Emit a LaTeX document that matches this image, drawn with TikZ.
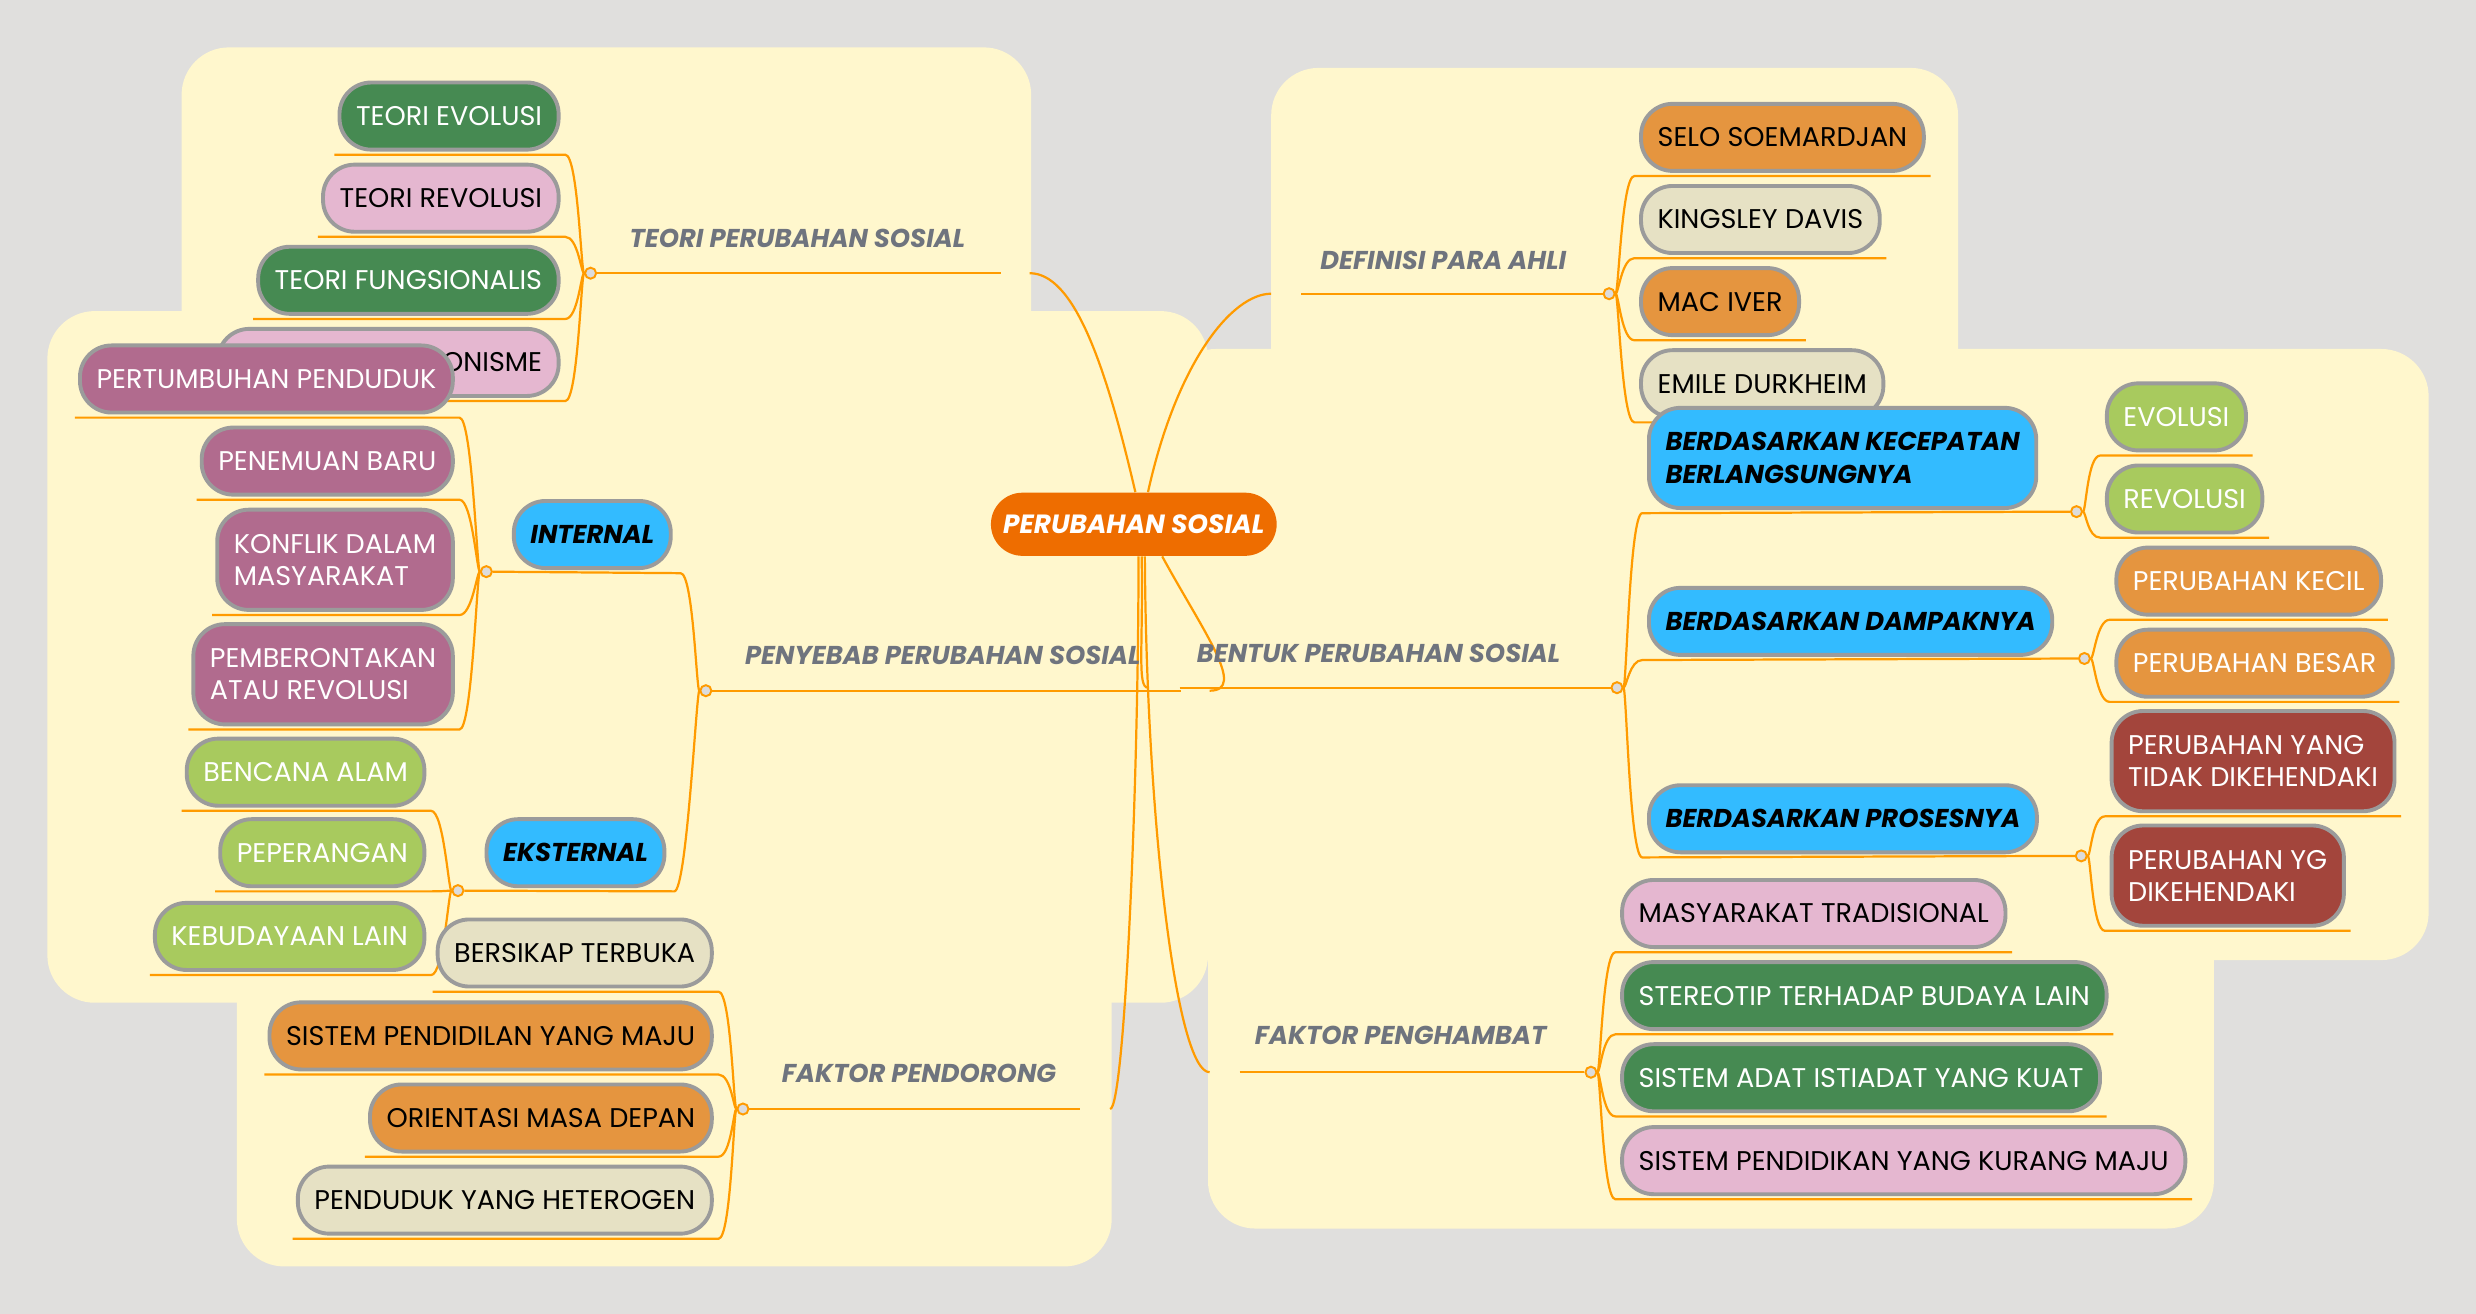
\documentclass[tikz,border=0pt]{standalone}
\usepackage{fontspec}
\setmainfont{Poppins}
\usetikzlibrary{positioning,calc}
\definecolor{bgray}{HTML}{E0DFDD}
\definecolor{panel}{HTML}{FFF7CD}
\definecolor{wirec}{HTML}{FF9B00}
\definecolor{edgegray}{HTML}{9B9B9B}
\definecolor{lgray}{HTML}{6F747E}
\definecolor{cent}{HTML}{EE6D00}
\definecolor{jfill}{HTML}{DCDCDC}
\definecolor{cgreen}{HTML}{468A52}
\definecolor{cpink}{HTML}{E5B7D0}
\definecolor{cmauve}{HTML}{B16B8E}
\definecolor{clime}{HTML}{A8CA5E}
\definecolor{corange}{HTML}{E5953F}
\definecolor{cbeige}{HTML}{E6E1C4}
\definecolor{cred}{HTML}{A3453C}
\definecolor{cblue}{HTML}{33BBFF}
\newcommand{\bxfont}{\fontsize{9.75}{11.6}\selectfont}
\newcommand{\blfont}{\fontsize{9.3}{11.6}\selectfont\bfseries\itshape}
\newcommand{\lbfont}{\fontsize{9.3}{11}\selectfont\bfseries\itshape}
\newcommand{\ctfont}{\fontsize{9.5}{12}\selectfont\bfseries\itshape}
\pgfdeclarelayer{panels}
\pgfdeclarelayer{wires}
\pgfsetlayers{panels,wires,main}

\begin{document}
\begin{tikzpicture}[x=0.02cm, y=-0.02cm,
    box/.style={draw=edgegray, line width=1.4pt, rounded corners=0.4cm, minimum height=0.85cm,
      inner xsep=0.21cm, inner ysep=0.1cm, font=\bxfont, align=left},
    tall/.style={minimum height=1.27cm},
    lft/.style={box, anchor=east},
    rgt/.style={box, anchor=west},
    grn/.style={fill=cgreen, text=white},
    pnk/.style={fill=cpink, text=black},
    mve/.style={fill=cmauve, text=white},
    lme/.style={fill=clime, text=white},
    org/.style={fill=corange, text=black},
    orw/.style={fill=corange, text=white},
    bge/.style={fill=cbeige, text=black},
    rd/.style={fill=cred, text=white},
    blu/.style={fill=cblue, text=black, font=\blfont},
    lbl/.style={font=\lbfont, text=lgray, inner sep=0},
    wire/.style={draw=wirec, line width=0.8pt},
    jn/.style={circle, draw=wirec, fill=jfill, line width=0.7pt, inner sep=0, minimum size=0.14cm},
    pnl/.style={fill=panel, rounded corners=0.6cm}]
    \useasboundingbox (0,0) rectangle (1568,832);

    % centre
    \node[fill=cent, rounded corners=0.4cm, minimum width=3.62cm, minimum height=0.8cm,
      text=white, font=\ctfont] (ps) at (718,332) {PERUBAHAN SOSIAL};

    % branch labels
    \node[lbl] (lTe) at (505,151) {TEORI PERUBAHAN SOSIAL};
    \node[lbl] (lPy) at (597,415) {PENYEBAB PERUBAHAN SOSIAL};
    \node[lbl] (lPd) at (582,680) {FAKTOR PENDORONG};
    \node[lbl] (lDf) at (914,165) {DEFINISI PARA AHLI};
    \node[lbl] (lBt) at (873,414) {BENTUK PERUBAHAN SOSIAL};
    \node[lbl] (lPh) at (887,656) {FAKTOR PENGHAMBAT};

    % teori
    \node[lft, grn] (te1) at (355,73.5) {TEORI EVOLUSI};
    \node[lft, pnk] (te2) at (355,125.5) {TEORI REVOLUSI};
    \node[lft, grn] (te3) at (355,177.5) {TEORI FUNGSIONALIS};
    \node[lft, pnk] (te4) at (355,229.5) {TEORI INTERAKSIONISME};

    % penyebab
    \node[lft, blu] (inl) at (426,338.5) {INTERNAL};
    \node[lft, blu] (ekl) at (422,540) {EKSTERNAL};
    \node[lft, mve] (in1) at (288,240) {PERTUMBUHAN PENDUDUK};
    \node[lft, mve] (in2) at (288,292) {PENEMUAN BARU};
    \node[lft, mve, tall] (in3) at (288,354.5) {KONFLIK DALAM\\MASYARAKAT};
    \node[lft, mve, tall] (in4) at (288,427) {PEMBERONTAKAN\\ATAU REVOLUSI};
    \node[lft, lme] (ek1) at (270,489) {BENCANA ALAM};
    \node[lft, lme] (ek2) at (270,540) {PEPERANGAN};
    \node[lft, lme] (ek3) at (270,593) {KEBUDAYAAN LAIN};

    % pendorong
    \node[lft, bge] (pd1) at (452,603.5) {BERSIKAP TERBUKA};
    \node[lft, org] (pd2) at (452,656) {SISTEM PENDIDILAN YANG MAJU};
    \node[lft, org] (pd3) at (452,708) {ORIENTASI MASA DEPAN};
    \node[lft, bge] (pd4) at (452,760) {PENDUDUK YANG HETEROGEN};

    % definisi
    \node[rgt, org] (df1) at (1038,87) {SELO SOEMARDJAN};
    \node[rgt, bge] (df2) at (1038,139) {KINGSLEY DAVIS};
    \node[rgt, org] (df3) at (1038,191) {MAC IVER};
    \node[rgt, bge] (df4) at (1038,243) {EMILE DURKHEIM};

    % bentuk
    \node[rgt, blu, tall] (bt1) at (1043,290) {BERDASARKAN KECEPATAN\\BERLANGSUNGNYA};
    \node[rgt, blu] (bt2) at (1043,393.5) {BERDASARKAN DAMPAKNYA};
    \node[rgt, blu] (bt3) at (1043,518.5) {BERDASARKAN PROSESNYA};
    \node[rgt, lme] (kc1) at (1333,264) {EVOLUSI};
    \node[rgt, lme] (kc2) at (1333,316) {REVOLUSI};
    \node[rgt, orw] (dp1) at (1339,368) {PERUBAHAN KECIL};
    \node[rgt, orw] (dp2) at (1339,420) {PERUBAHAN BESAR};
    \node[rgt, rd, tall] (pr1) at (1336,482) {PERUBAHAN YANG\\TIDAK DIKEHENDAKI};
    \node[rgt, rd, tall] (pr2) at (1336,554.5) {PERUBAHAN YG\\DIKEHENDAKI};

    % penghambat
    \node[rgt, pnk] (ph1) at (1026,578.5) {MASYARAKAT TRADISIONAL};
    \node[rgt, grn] (ph2) at (1026,630.5) {STEREOTIP TERHADAP BUDAYA LAIN};
    \node[rgt, grn] (ph3) at (1026,682.5) {SISTEM ADAT ISTIADAT YANG KUAT};
    \node[rgt, pnk] (ph4) at (1026,735) {SISTEM PENDIDIKAN YANG KURANG MAJU};

    % junctions
    \node[jn] (jTe) at (374,173) {};
    \node[jn] (jPy) at (447,437.4) {};
    \node[jn] (jIn) at (308,362) {};
    \node[jn] (jEk) at (290,564) {};
    \node[jn] (jPd) at (470.5,702.3) {};
    \node[jn] (jDf) at (1019,186) {};
    \node[jn] (jBt) at (1024,435.5) {};
    \node[jn] (jKc) at (1315,324) {};
    \node[jn] (jDp) at (1320,417) {};
    \node[jn] (jPr) at (1318,542) {};
    \node[jn] (jPh) at (1007.5,679) {};

    % ends of the main connectors
    \coordinate (cTe) at (652,173);   \coordinate (uTe) at (634,173);
    \coordinate (cPy) at (766,437.4); \coordinate (uPy) at (748,437.4);
    \coordinate (cPd) at (703,702.3); \coordinate (uPd) at (684,702.3);
    \coordinate (cDf) at (805,186);   \coordinate (uDf) at (824,186);
    \coordinate (cBt) at (727,435.5); \coordinate (uBt) at (747,435.5);
    \coordinate (cPh) at (766,679);   \coordinate (uPh) at (785,679);

    \begin{pgfonlayer}{panels}
      \fill[bgray] (0,0) rectangle (1568,832);
      \fill[pnl] (115,30) rectangle (653,320);
      \fill[pnl] (805,43) rectangle (1240,320);
      \fill[pnl] (30,197) rectangle (765,635);
      \fill[pnl] (740,221) rectangle (1538,608);
      \fill[pnl] (150,560) rectangle (704,802);
      \fill[pnl] (765,560) rectangle (1402,778);
    \end{pgfonlayer}

    \begin{pgfonlayer}{wires}
      \draw[wire] ([xshift=0.02cm]ps.north) .. controls (700,230) and (680,173) .. (cTe);
      \draw[wire] ([xshift=0.18cm]ps.north) .. controls (745,230) and (780,186) .. (cDf);
      \draw[wire] ([xshift=0.36cm]ps.south) .. controls (762,400) and (790,437.4) .. (cPy);
      \draw[wire] ([xshift=0.10cm]ps.south) .. controls (724,410) and (720,435.5) .. (cBt);
      \draw[wire] ([xshift=0.06cm]ps.south) .. controls (721,500) and (712,702.3) .. (cPd);
      \draw[wire] ([xshift=0.14cm]ps.south) .. controls (726,520) and (745,679) .. (cPh);
      \draw[wire] (jTe) -- (uTe);
      \draw[wire] (jPy) -- (uPy);
      \draw[wire] (jPd) -- (uPd);
      \draw[wire] (uDf) -- (jDf);
      \draw[wire] (uBt) -- (jBt);
      \draw[wire] (uPh) -- (jPh);
      % left children
      \foreach \n/\j in {te1/jTe,te2/jTe,te3/jTe,te4/jTe,in1/jIn,in2/jIn,in3/jIn,in4/jIn,
          ek1/jEk,ek2/jEk,ek3/jEk,pd1/jPd,pd2/jPd,pd3/jPd,pd4/jPd}
        \draw[wire] ([shift={(-2,2)}]\n.south west) -- ([shift={(3,2)}]\n.south east)
          .. controls +(8,0) and +(-6,0) .. (\j);
      \draw[wire] (jIn) -- ([shift={(5,2)}]inl.south east) .. controls +(8,0) and +(-6,0) .. (jPy);
      \draw[wire] (jEk) -- ([shift={(5,2)}]ekl.south east) .. controls +(8,0) and +(-6,0) .. (jPy);
      % right children
      \foreach \n/\j in {df1/jDf,df2/jDf,df3/jDf,df4/jDf,kc1/jKc,kc2/jKc,dp1/jDp,dp2/jDp,
          pr1/jPr,pr2/jPr,ph1/jPh,ph2/jPh,ph3/jPh,ph4/jPh}
        \draw[wire] (\j) .. controls +(6,0) and +(-8,0) .. ([shift={(-3,2)}]\n.south west)
          -- ([shift={(3,2)}]\n.south east);
      \foreach \n/\j in {bt1/jKc,bt2/jDp,bt3/jPr}
        \draw[wire] (jBt) .. controls +(6,0) and +(-8,0) .. ([shift={(-3,2)}]\n.south west) -- (\j);
    \end{pgfonlayer}
\end{tikzpicture}
\end{document}
